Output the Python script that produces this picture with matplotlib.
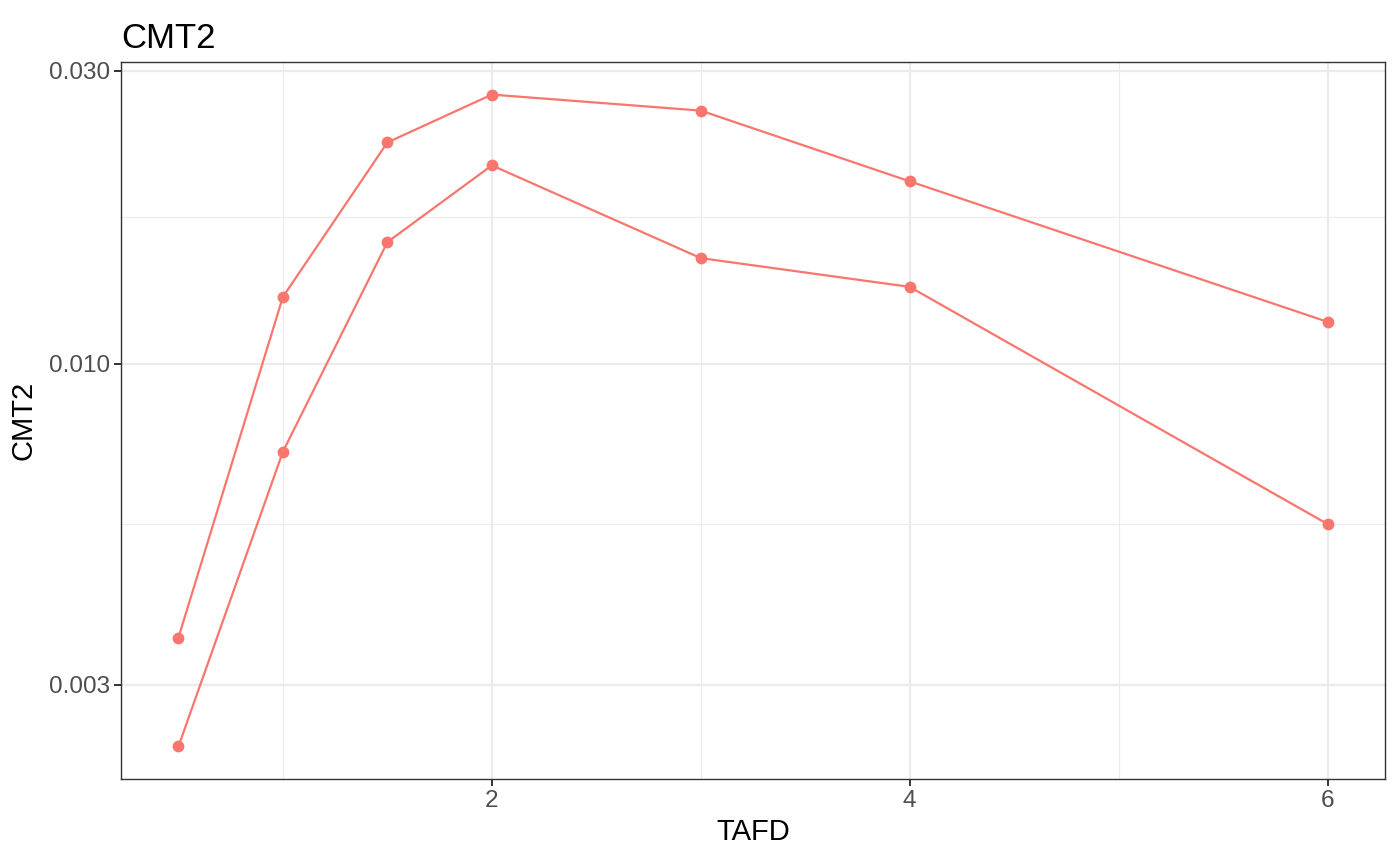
import numpy as np
import matplotlib
matplotlib.use("Agg")
import matplotlib.pyplot as plt
from matplotlib.ticker import FixedLocator, FixedFormatter, NullFormatter

plt.rcParams['font.family'] = ['Liberation Sans', 'DejaVu Sans']

# ===== data =====
tafd = [0.5, 1.0, 1.5, 2.0, 3.0, 4.0, 6.0]
cmt2_upper = [0.00358, 0.01285, 0.02293, 0.02744, 0.02584, 0.01982, 0.01170]
cmt2_lower = [0.00238, 0.00719, 0.01578, 0.02104, 0.01486, 0.01334, 0.00548]

y_major = [0.003, 0.010, 0.030]
y_major_labels = ["0.003", "0.010", "0.030"]
x_major = [2, 4, 6]
x_minor = [1, 3, 5]

COL = "#F8766D"
GRID = "#EBEBEB"

fig = plt.figure(figsize=(14, 8.65), dpi=100)
ax = fig.add_axes([121 / 1400, 1 - 779 / 865, (1385 - 121) / 1400, (779 - 62) / 865])

for ys in (cmt2_upper, cmt2_lower):
    ax.plot(tafd, ys, color=COL, lw=1.6, zorder=3)
    ax.plot(tafd, ys, 'o', color=COL, ms=8.5, mec='none', zorder=4)

ax.set_yscale('log')

# ggplot-like 5% expansion
xr = max(tafd) - min(tafd)
ax.set_xlim(min(tafd) - 0.05 * xr, max(tafd) + 0.05 * xr)
all_y = np.log10(cmt2_upper + cmt2_lower)
lr = all_y.max() - all_y.min()
ax.set_ylim(10 ** (all_y.min() - 0.05 * lr), 10 ** (all_y.max() + 0.05 * lr))

# gridlines
ax.yaxis.set_major_locator(FixedLocator(y_major))
ax.yaxis.set_major_formatter(FixedFormatter(y_major_labels))
y_minor = [np.sqrt(a * b) for a, b in zip(y_major[:-1], y_major[1:])]
ax.yaxis.set_minor_locator(FixedLocator(y_minor))
ax.yaxis.set_minor_formatter(NullFormatter())
ax.xaxis.set_major_locator(FixedLocator(x_major))
ax.xaxis.set_minor_locator(FixedLocator(x_minor))

ax.grid(True, which='major', color=GRID, lw=1.6, zorder=0)
ax.grid(True, which='minor', color=GRID, lw=0.8, zorder=0)
ax.set_axisbelow(True)

ax.tick_params(which='major', direction='out', length=5, width=1.4, color='#333333',
               labelcolor='#4D4D4D', labelsize=17.5, pad=3)
ax.tick_params(which='minor', length=0)

for s in ax.spines.values():
    s.set_color('#333333')
    s.set_linewidth(1.0)

ax.set_xlabel("TAFD", fontsize=21, labelpad=4)
ax.set_ylabel("CMT2", fontsize=21, labelpad=8)
ax.set_title("CMT2", fontsize=25, loc='left', pad=10)

fig.savefig("out.png", dpi=100)
